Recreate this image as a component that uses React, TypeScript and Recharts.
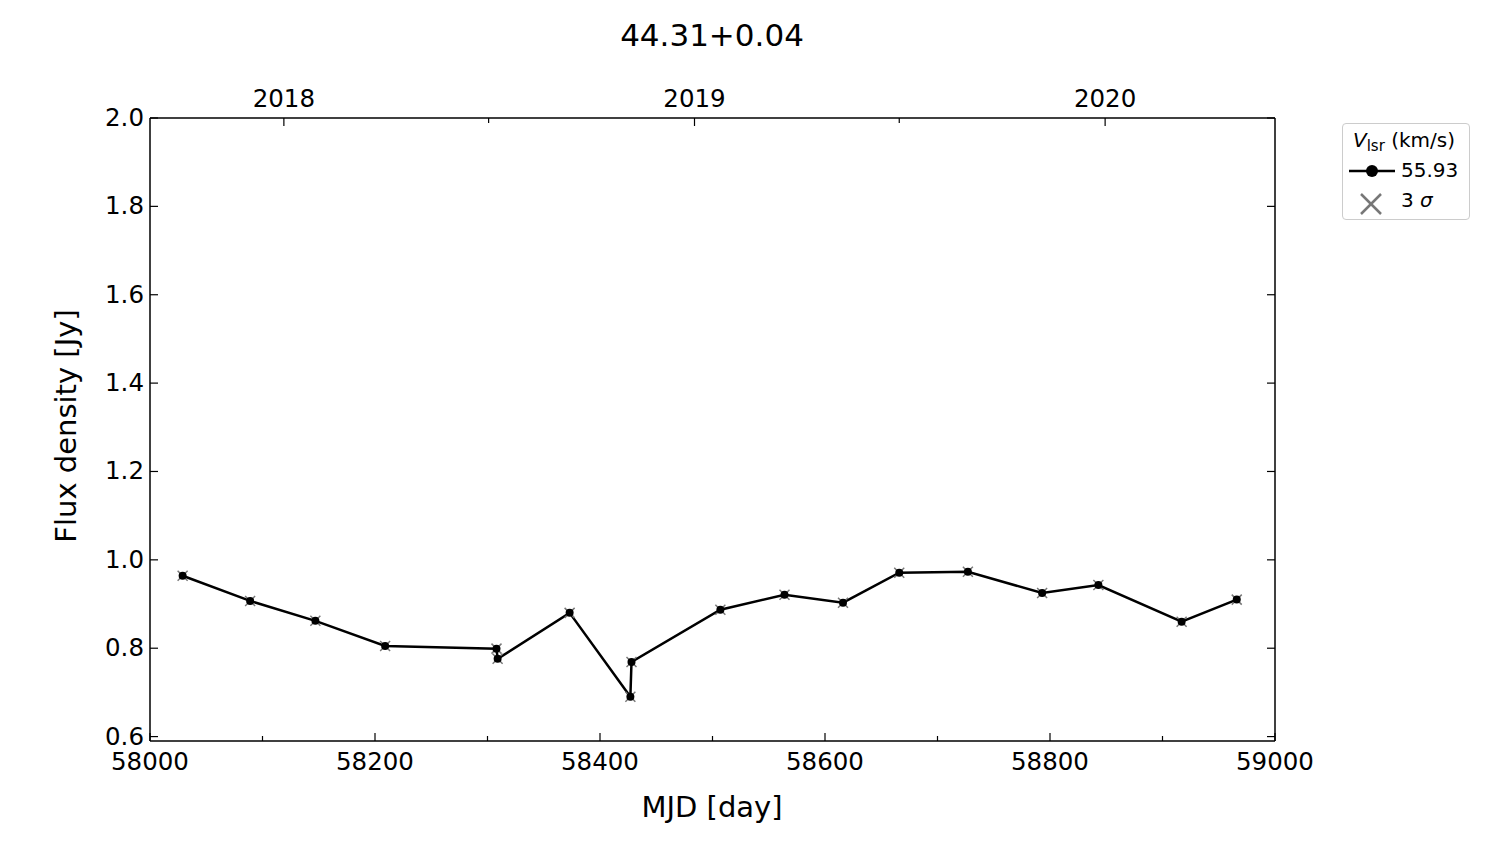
import { ComposedChart, Line, XAxis, YAxis, Customized } from 'recharts';

const mjd = [58029, 58089, 58147, 58209, 58308, 58309, 58373, 58427, 58428, 58507, 58564, 58616, 58666, 58727, 58793, 58843, 58917, 58966];
const flux = [0.964, 0.907, 0.862, 0.805, 0.799, 0.776, 0.880, 0.690, 0.769, 0.887, 0.921, 0.903, 0.971, 0.973, 0.925, 0.943, 0.860, 0.910];

const mjdTicks = [58000, 58100, 58200, 58300, 58400, 58500, 58600, 58700, 58800, 58900, 59000];
const yearTicks = [58119, 58301, 58484, 58666, 58849];
const yearLabels: Record<number, string> = { 58119: '2018', 58484: '2019', 58849: '2020' };
const fluxTicks = [0.6, 0.8, 1.0, 1.2, 1.4, 1.6, 1.8, 2.0];

const data = mjd.map((m, i) => ({ mjd: m, flux: flux[i] }));

const FONT = '"DejaVu Sans", sans-serif';
const TICK_FS = 24.5;

function BottomTick(props: any) {
  const { x, y, payload } = props;
  const major = payload.value % 200 === 0;
  return (
    <g>
      <line x1={x} x2={x} y1={y} y2={y - (major ? 8 : 5)} stroke="#000" strokeWidth={1.2} />
      {major && (
        <text x={x} y={y + 29} textAnchor="middle" fontSize={TICK_FS} fontFamily={FONT} fill="#000">
          {payload.value}
        </text>
      )}
    </g>
  );
}

function TopTick(props: any) {
  const { x, y, payload } = props;
  const label = yearLabels[payload.value];
  return (
    <g>
      <line x1={x} x2={x} y1={y} y2={y + (label ? 8 : 5)} stroke="#000" strokeWidth={1.2} />
      {label && (
        <text x={x} y={y - 11} textAnchor="middle" fontSize={TICK_FS} fontFamily={FONT} fill="#000">
          {label}
        </text>
      )}
    </g>
  );
}

function LeftTick(props: any) {
  const { x, y, payload } = props;
  return (
    <g>
      <line x1={x} x2={x + 8} y1={y} y2={y} stroke="#000" strokeWidth={1.2} />
      <text x={x - 6} y={y + 8} textAnchor="end" fontSize={TICK_FS} fontFamily={FONT} fill="#000">
        {payload.value.toFixed(1)}
      </text>
    </g>
  );
}

function RightTick(props: any) {
  const { x, y } = props;
  return <line x1={x} x2={x - 8} y1={y} y2={y} stroke="#000" strokeWidth={1.2} />;
}

function PointMark(props: any) {
  const { cx, cy } = props;
  if (cx == null || cy == null) return null;
  const s = 5;
  return (
    <g>
      <line x1={cx - s} y1={cy - s} x2={cx + s} y2={cy + s} stroke="#777" strokeWidth={1.5} />
      <line x1={cx - s} y1={cy + s} x2={cx + s} y2={cy - s} stroke="#777" strokeWidth={1.5} />
      <circle cx={cx} cy={cy} r={4} fill="#000" />
    </g>
  );
}

function LegendBox() {
  return (
    <div
      style={{
        position: 'absolute',
        left: 1342,
        top: 123,
        width: 128,
        height: 97,
        border: '1.5px solid #ccc',
        borderRadius: 4,
        background: '#fff',
        fontFamily: FONT,
        fontSize: 20,
        color: '#000',
        boxSizing: 'border-box',
      }}
    >
      <div style={{ position: 'absolute', left: 10, top: 4, whiteSpace: 'nowrap' }}>
        <i>V</i>
        <span style={{ fontSize: 15, position: 'relative', top: 4 }}>lsr</span> (km/s)
      </div>
      <svg width={50} height={20} style={{ position: 'absolute', left: 4, top: 37 }}>
        <line x1={2} x2={48} y1={10} y2={10} stroke="#000" strokeWidth={2.5} />
        <circle cx={25} cy={10} r={6} fill="#000" />
      </svg>
      <div style={{ position: 'absolute', left: 58, top: 34 }}>55.93</div>
      <svg width={30} height={30} style={{ position: 'absolute', left: 13, top: 65 }}>
        <line x1={5} y1={5} x2={25} y2={25} stroke="#777" strokeWidth={2.5} />
        <line x1={5} y1={25} x2={25} y2={5} stroke="#777" strokeWidth={2.5} />
      </svg>
      <div style={{ position: 'absolute', left: 58, top: 64 }}>
        3 <i>σ</i>
      </div>
    </div>
  );
}

function Labels() {
  return (
    <g fontFamily={FONT} fill="#000">
      <text x={712} y={46} textAnchor="middle" fontSize={31}>44.31+0.04</text>
      <text x={712} y={817} textAnchor="middle" fontSize={29}>MJD [day]</text>
      <text x={76} y={426} textAnchor="middle" fontSize={29} transform="rotate(-90 76 426)">
        Flux density [Jy]
      </text>
    </g>
  );
}

export default function App() {
  return (
    <div style={{ position: 'absolute', left: 0, top: 0, width: 1500, height: 844, background: '#fff' }}>
      <ComposedChart width={1500} height={844} data={data} margin={{ top: 117, right: 224, bottom: 102, left: 149 }}>
        <XAxis
          dataKey="mjd"
          type="number"
          xAxisId="bottom"
          domain={[58000, 59000]}
          ticks={mjdTicks}
          interval={0}
          tick={<BottomTick />}
          tickSize={0}
          tickMargin={0}
          tickLine={false}
          axisLine={{ stroke: '#000', strokeWidth: 1.5 }}
          height={1}
          allowDataOverflow
        />
        <XAxis
          dataKey="mjd"
          type="number"
          xAxisId="top"
          orientation="top"
          domain={[58000, 59000]}
          ticks={yearTicks}
          interval={0}
          tick={<TopTick />}
          tickSize={0}
          tickMargin={0}
          tickLine={false}
          axisLine={{ stroke: '#000', strokeWidth: 1.5 }}
          height={1}
          allowDataOverflow
        />
        <YAxis
          yAxisId="left"
          type="number"
          domain={[0.59, 2.0]}
          ticks={fluxTicks}
          interval={0}
          tick={<LeftTick />}
          tickSize={0}
          tickMargin={0}
          tickLine={false}
          axisLine={{ stroke: '#000', strokeWidth: 1.5 }}
          width={1}
          allowDataOverflow
        />
        <YAxis
          yAxisId="right"
          orientation="right"
          type="number"
          domain={[0.59, 2.0]}
          ticks={fluxTicks}
          interval={0}
          tick={<RightTick />}
          tickSize={0}
          tickMargin={0}
          tickLine={false}
          axisLine={{ stroke: '#000', strokeWidth: 1.5 }}
          width={1}
          allowDataOverflow
        />
        <Line
          xAxisId="bottom"
          yAxisId="left"
          dataKey="flux"
          type="linear"
          stroke="#000"
          strokeWidth={2.5}
          dot={<PointMark />}
          activeDot={false}
          isAnimationActive={false}
        />
        <Line
          xAxisId="top"
          yAxisId="right"
          dataKey="flux"
          stroke="none"
          dot={false}
          activeDot={false}
          legendType="none"
          isAnimationActive={false}
        />
        <Customized component={<Labels />} />
      </ComposedChart>
      <LegendBox />
    </div>
  );
}
